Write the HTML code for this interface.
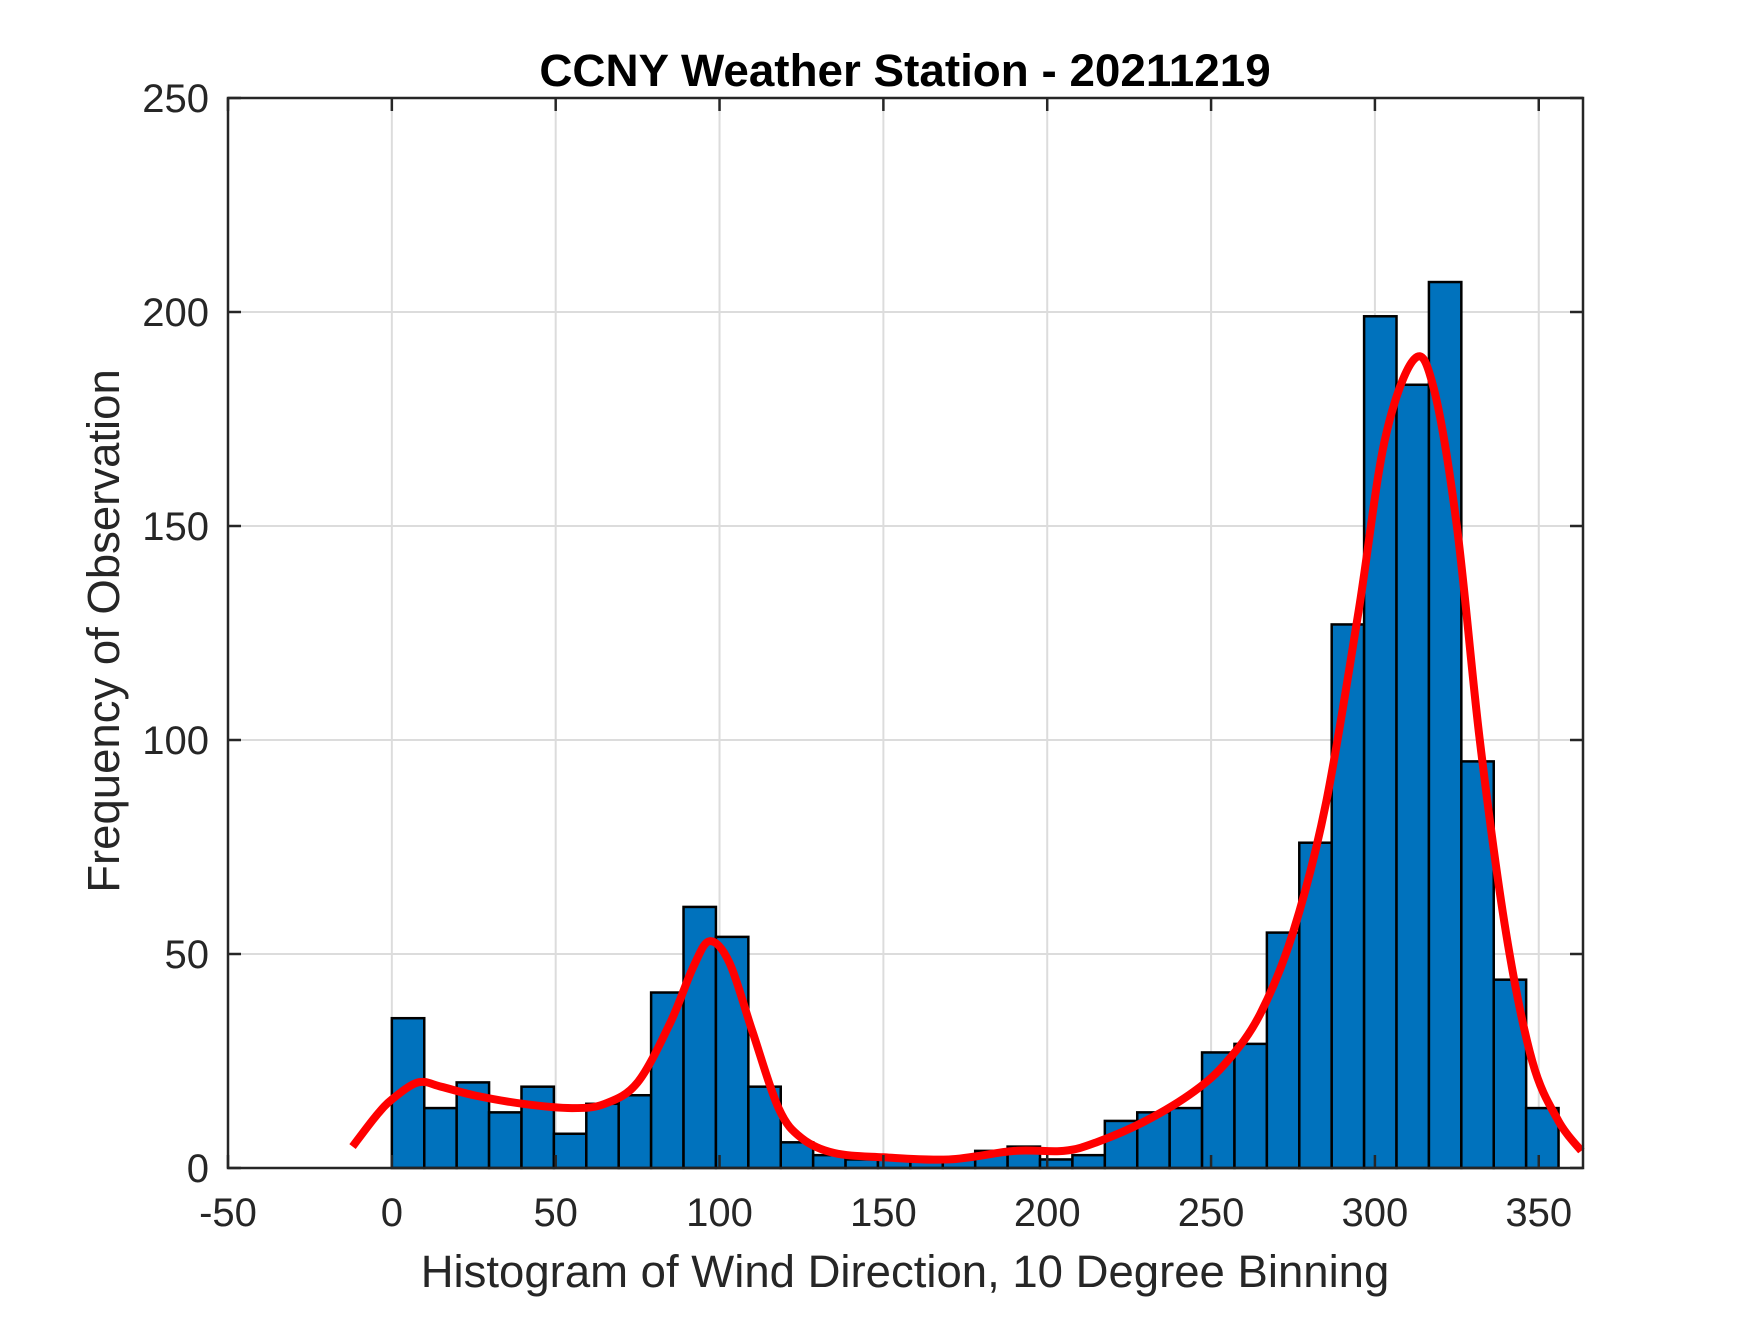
<!DOCTYPE html>
<html><head><meta charset="utf-8"><style>
html,body{margin:0;padding:0;background:#fff;}
svg text{font-family:"Liberation Sans",Arial,sans-serif;}
</style></head><body>
<svg id="chart" width="1750" height="1313" viewBox="0 0 1750 1313" xmlns="http://www.w3.org/2000/svg">
<rect width="1750" height="1313" fill="#fff"/>
<g id="grid"></g><g id="bars"></g><g id="curve"></g><g id="axes"></g>
<text x="905" y="86" text-anchor="middle" font-size="45.8" font-weight="bold" fill="#000">CCNY Weather Station - 20211219</text>
<text x="905" y="1287" text-anchor="middle" font-size="45.5" fill="#262626">Histogram of Wind Direction, 10 Degree Binning</text>
<text transform="translate(119,631) rotate(-90)" text-anchor="middle" font-size="45.5" fill="#262626">Frequency of Observation</text>
</svg>
<script>
const binStarts=[0,10,20,30,40,50,60,70,80,90,100,110,120,130,140,150,160,170,180,190,200,210,220,230,240,250,260,270,280,290,300,310,320,330,340,350];
const counts=[35,14,20,13,19,8,15,17,41,61,54,19,6,3,2,2,2,2,4,5,2,3,11,13,14,27,29,55,76,127,199,183,207,95,44,14];
const curveX=[-12,-5,0,8,15,25,40,55,65,75,85,92,97,103,110,118,125,135,150,170,190,205,215,230,245,255,265,275,285,295,303,312,318,325,332,340,348,356,363];
const curveY=[5,12,16,20,19,17,15,14,15,20,34,47,53,48,32,14,7,3.5,2.5,2,4,4,6,11,18,25,36,55,85,130,170,189,182,150,100,55,25,11,4];
const xTicks=[-50,0,50,100,150,200,250,300,350];
const yTicks=[0,50,100,150,200,250];
const binScale=0.989;
const L=228,R=1583,T=98,B=1168,XMIN=-50,XMAX=363.5,YMAX=250;
const sx=v=>L+(v-XMIN)/(XMAX-XMIN)*(R-L);
const sy=v=>B-v/YMAX*(B-T);
const NS='http://www.w3.org/2000/svg';
function mk(tag,attrs,parent){const e=document.createElementNS(NS,tag);for(const k in attrs)e.setAttribute(k,attrs[k]);parent.appendChild(e);return e;}
const grid=document.getElementById('grid'),bars=document.getElementById('bars'),curve=document.getElementById('curve'),axes=document.getElementById('axes');
xTicks.forEach(t=>{const g=mk('line',{x1:sx(t),x2:sx(t),y1:T,y2:B,stroke:'#dcdcdc','stroke-width':2},grid);

});
yTicks.forEach(t=>{const g=mk('line',{x1:L,x2:R,y1:sy(t),y2:sy(t),stroke:'#dcdcdc','stroke-width':2},grid);

});
counts.forEach((c,i)=>{const x0=sx(binStarts[i]*binScale),x1=sx((binStarts[i]+10)*binScale);
const r=mk('rect',{x:x0,y:sy(c),width:x1-x0,height:sy(0)-sy(c),fill:'#0072bd',stroke:'#000','stroke-width':2.5},bars);

});
const P=curveX.map((x,i)=>[sx(x),sy(curveY[i])]);
let d='M'+P[0][0]+','+P[0][1];
for(let i=0;i<P.length-1;i++){const p0=P[Math.max(0,i-1)],p1=P[i],p2=P[i+1],p3=P[Math.min(P.length-1,i+2)];
d+=' C'+(p1[0]+(p2[0]-p0[0])/6)+','+(p1[1]+(p2[1]-p0[1])/6)+' '+(p2[0]-(p3[0]-p1[0])/6)+','+(p2[1]-(p3[1]-p1[1])/6)+' '+p2[0]+','+p2[1];}
const cp=mk('path',{d:d,fill:'none',stroke:'#ff0000','stroke-width':8,'stroke-linejoin':'round'},curve);


const box=mk('rect',{x:L,y:T,width:R-L,height:B-T,fill:'none',stroke:'#262626','stroke-width':2.5},axes);


xTicks.forEach(t=>{mk('line',{x1:sx(t),x2:sx(t),y1:B,y2:B-13,stroke:'#262626','stroke-width':2.5},axes);mk('line',{x1:sx(t),x2:sx(t),y1:T,y2:T+13,stroke:'#262626','stroke-width':2.5},axes);
const tx=mk('text',{x:sx(t),y:B+58,'text-anchor':'middle','font-size':40,fill:'#262626'},axes);tx.textContent=t;

});
yTicks.forEach(t=>{mk('line',{x1:L,x2:L+13,y1:sy(t),y2:sy(t),stroke:'#262626','stroke-width':2.5},axes);mk('line',{x1:R,x2:R-13,y1:sy(t),y2:sy(t),stroke:'#262626','stroke-width':2.5},axes);
const tx=mk('text',{x:L-19,y:sy(t)+14,'text-anchor':'end','font-size':40,fill:'#262626'},axes);tx.textContent=t;

});
</script>
</body></html>
